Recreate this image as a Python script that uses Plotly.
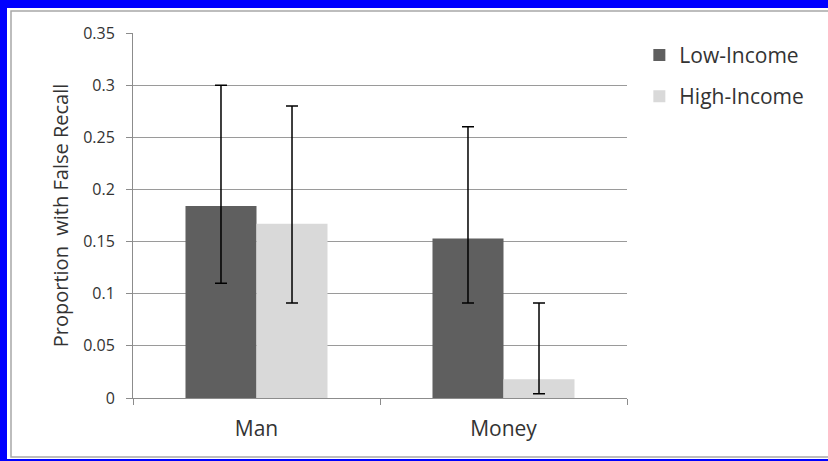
import plotly.graph_objects as go

categories = ["Man", "Money"]
low_income = [0.184, 0.153]
low_err_upper = [0.300, 0.260]
low_err_lower = [0.110, 0.091]
high_income = [0.167, 0.018]
high_err_upper = [0.280, 0.091]
high_err_lower = [0.091, 0.004]
y_ticks = [0, 0.05, 0.1, 0.15, 0.2, 0.25, 0.3, 0.35]
y_tick_labels = ["0", "0.05", "0.1", "0.15", "0.2", "0.25", "0.3", "0.35"]

def plus(v, u):
    return [b - a for a, b in zip(v, u)]

def minus(v, l):
    return [a - b for a, b in zip(v, l)]

W, H = 828, 461
L, R, T, B = 133, 201, 33, 63
pw, ph = W - L - R, H - T - B

fig = go.Figure()
err_style = dict(color="black", thickness=1.5, width=6)
fig.add_trace(go.Bar(
    x=categories, y=low_income, name="Low-Income", legendgroup="low",
    marker=dict(color="#5f5f5f", line=dict(width=0)),
    error_y=dict(type="data", symmetric=False, array=plus(low_income, low_err_upper),
                 arrayminus=minus(low_income, low_err_lower), **err_style),
))
fig.add_trace(go.Bar(
    x=categories, y=high_income, name="High-Income", legendgroup="high",
    marker=dict(color="#d9d9d9", line=dict(width=0)),
    error_y=dict(type="data", symmetric=False, array=plus(high_income, high_err_upper),
                 arrayminus=minus(high_income, high_err_lower), **err_style),
))

def px_x(p):
    return (p - L) / pw

def px_y(p):
    return (H - B - p) / ph

shapes = [
    dict(type="rect", xref="paper", yref="paper", layer="below",
         x0=px_x(7), x1=px_x(W + 5), y0=px_y(H - 2), y1=px_y(8),
         fillcolor="white", line=dict(width=0)),
    dict(type="rect", xref="paper", yref="paper", layer="below",
         x0=px_x(11), x1=px_x(W + 5), y0=px_y(H - 4), y1=px_y(11),
         fillcolor="rgba(0,0,0,0)", line=dict(color="#a8a8a8", width=1.5)),
]

fig.update_layout(
    width=W, height=H,
    margin=dict(l=L, r=R, t=T, b=B, pad=0),
    paper_bgcolor="#0000ff",
    plot_bgcolor="rgba(0,0,0,0)",
    barmode="group",
    bargap=0.425,
    bargroupgap=0,
    shapes=shapes,
    font=dict(family="Open Sans", size=16, color="#333333"),
    showlegend=True,
    legend=dict(x=1.025, y=0.995, xanchor="left", yanchor="top",
                font=dict(size=21, color="#333333"), bgcolor="rgba(0,0,0,0)",
                traceorder="grouped", tracegroupgap=11, itemwidth=30),
    xaxis=dict(showgrid=False, showline=True, linecolor="#8c8c8c", linewidth=1,
               ticks="outside", tickson="boundaries", ticklen=6, tickcolor="#8c8c8c",
               ticklabelstandoff=12,
               tickfont=dict(size=21, color="#333333")),
    yaxis=dict(range=[0, 0.35], tickvals=y_ticks, ticktext=y_tick_labels,
               showgrid=True, gridcolor="#9a9a9a", gridwidth=1,
               showline=True, linecolor="#8c8c8c", linewidth=1,
               ticks="outside", ticklen=6, tickcolor="#8c8c8c", zeroline=False,
               ticklabelstandoff=8,
               tickfont=dict(size=16, color="#333333"),
               title=dict(text="Proportion  with False Recall", standoff=9,
                          font=dict(size=20, color="#333333"))),
)

fig.write_html("out.html", config={"displayModeBar": False},
               post_script="document.body.style.margin='0px';")
